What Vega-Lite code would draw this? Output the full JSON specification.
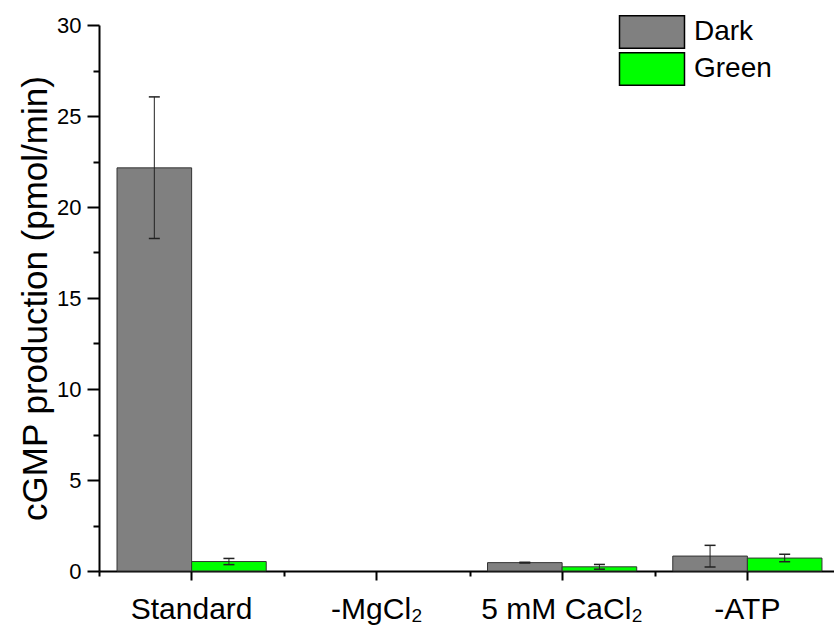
{
  "$schema": "https://vega.github.io/schema/vega-lite/v6.json",
  "width": 735,
  "height": 546,
  "autosize": {"type": "none"},
  "padding": {"left": 99, "top": 25, "right": 0, "bottom": 55},
  "config": {
    "font": "Liberation Sans",
    "view": {"stroke": null},
    "axis": {"grid": false, "domainColor": "#000", "tickColor": "#000", "labelColor": "#000", "titleColor": "#000"},
    "legend": {
      "orient": "none",
      "legendX": 536,
      "legendY": -10,
      "title": null,
      "symbolType": "M-2,-1H2V1H-2Z",
      "symbolSize": 1056,
      "symbolStrokeColor": "#000",
      "symbolStrokeWidth": 1.5,
      "symbolOpacity": 1,
      "labelFontSize": 28,
      "labelColor": "#000",
      "labelOffset": 25,
      "rowPadding": -6,
      "padding": 0
    }
  },
  "data": {
    "values": [
      {"condition": "Standard", "light": "Dark", "value": 22.15, "lo": 18.27, "hi": 26.05},
      {"condition": "Standard", "light": "Green", "value": 0.52, "lo": 0.35, "hi": 0.69},
      {"condition": "-MgCl₂", "light": "Dark", "value": null, "lo": null, "hi": null},
      {"condition": "-MgCl₂", "light": "Green", "value": null, "lo": null, "hi": null},
      {"condition": "5 mM CaCl₂", "light": "Dark", "value": 0.46, "lo": 0.44, "hi": 0.48},
      {"condition": "5 mM CaCl₂", "light": "Green", "value": 0.23, "lo": 0.1, "hi": 0.36},
      {"condition": "-ATP", "light": "Dark", "value": 0.82, "lo": 0.22, "hi": 1.41},
      {"condition": "-ATP", "light": "Green", "value": 0.71, "lo": 0.51, "hi": 0.92}
    ]
  },
  "resolve": {"axis": {"x": "independent"}},
  "layer": [
    {
      "mark": {"type": "bar", "stroke": "#333", "strokeWidth": 1, "opacity": 1},
      "encoding": {
        "x": {
          "field": "condition", "type": "nominal",
          "sort": ["Standard", "-MgCl₂", "5 mM CaCl₂", "-ATP"],
          "scale": {"domain": ["Standard", "-MgCl₂", "5 mM CaCl₂", "-ATP"], "range": [0, 741], "paddingInner": 0, "paddingOuter": 0},
          "axis": {"orient": "bottom", "title": null, "labelAngle": 0, "labelFontSize": 30, "labelPadding": 14, "tickSize": 9, "tickWidth": 2, "domainWidth": 2}
        },
        "xOffset": {"field": "light", "type": "nominal", "scale": {"domain": ["Dark", "Green"], "paddingOuter": 0.2416, "paddingInner": 0}},
        "y": {
          "field": "value", "type": "quantitative",
          "title": "cGMP production (pmol/min)",
          "scale": {"domain": [0, 30], "nice": false},
          "axis": {
            "values": [0, 2.5, 5, 7.5, 10, 12.5, 15, 17.5, 20, 22.5, 25, 27.5, 30],
            "labelExpr": "datum.value % 5 === 0 ? datum.label : ''",
            "labelFontSize": 22,
            "labelPadding": 6,
            "tickSize": {"condition": {"test": "datum.value % 5 === 0", "value": 12}, "value": 6},
            "tickWidth": 2,
            "domainWidth": 2,
            "titleFontSize": 35,
            "titleFontWeight": "normal",
            "titlePadding": 3
          }
        },
        "color": {"field": "light", "type": "nominal", "scale": {"domain": ["Dark", "Green"], "range": ["#808080", "#00ff00"]}}
      }
    },
    {
      "mark": {"type": "rule", "color": "#222", "strokeWidth": 1},
      "encoding": {
        "x": {
          "field": "condition", "type": "nominal",
          "sort": ["Standard", "-MgCl₂", "5 mM CaCl₂", "-ATP"],
          "axis": {"orient": "bottom", "tickBand": "extent", "labels": false, "domain": false, "title": null, "tickSize": 5, "tickWidth": 2}
        },
        "xOffset": {"field": "light", "type": "nominal"},
        "y": {"field": "lo", "type": "quantitative", "title": "cGMP production (pmol/min)"},
        "y2": {"field": "hi"}
      }
    },
    {
      "mark": {"type": "tick", "color": "#222", "size": 11, "thickness": 1.5, "opacity": 1},
      "encoding": {
        "x": {"field": "condition", "type": "nominal", "sort": ["Standard", "-MgCl₂", "5 mM CaCl₂", "-ATP"], "axis": null},
        "xOffset": {"field": "light", "type": "nominal"},
        "y": {"field": "lo", "type": "quantitative", "title": "cGMP production (pmol/min)"}
      }
    },
    {
      "mark": {"type": "tick", "color": "#222", "size": 11, "thickness": 1.5, "opacity": 1},
      "encoding": {
        "x": {"field": "condition", "type": "nominal", "sort": ["Standard", "-MgCl₂", "5 mM CaCl₂", "-ATP"], "axis": null},
        "xOffset": {"field": "light", "type": "nominal"},
        "y": {"field": "hi", "type": "quantitative", "title": "cGMP production (pmol/min)"}
      }
    }
  ]
}
